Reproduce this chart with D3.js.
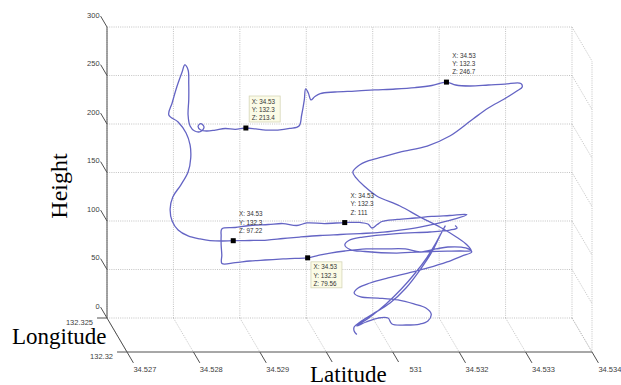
<!DOCTYPE html>
<html>
<head>
<meta charset="utf-8">
<script src="https://cdn.jsdelivr.net/npm/d3@7"></script>
<style>
  html, body { margin: 0; padding: 0; background: #fff; }
  svg { display: block; }
</style>
</head>
<body>
<svg id="chart" width="621" height="385"></svg>
<script>
// Axis ticks
const latTicks = [34.527, 34.528, 34.529, 34.530, 34.531, 34.532, 34.533, 34.534];
const latTickLabels = ["34.527", "34.528", "34.529", "34.53", "34.531", "34.532", "34.533", "34.534"];
const lonTicks = [132.325, 132.32];
const lonTickLabels = ["132.325", "132.32"];
const heightTicks = [0, 50, 100, 150, 200, 250, 300];
const heightTickLabels = ["0", "50", "100", "150", "200", "250", "300"];

// Flight track: latitude, longitude, height
const trackLat = [
  34.53061, 34.53057, 34.53057, 34.53066, 34.53085, 34.53111, 34.53135, 34.53156, 34.53174, 34.53186,
  34.53194, 34.53189, 34.53180, 34.53167, 34.53149, 34.53128, 34.53105, 34.53081, 34.53061, 34.53075,
  34.53093, 34.53108, 34.53114, 34.53135, 34.53156, 34.53168, 34.53173, 34.53165, 34.53147, 34.53123,
  34.53093, 34.53067, 34.53057, 34.53063, 34.53081, 34.53108, 34.53138, 34.53168, 34.53197, 34.53219,
  34.53234, 34.53225, 34.53198, 34.53180, 34.53156, 34.53134, 34.53103, 34.53075, 34.53043, 34.53021,
  34.53003, 34.52987, 34.52968, 34.52950, 34.52923, 34.52900, 34.52878, 34.52858, 34.52862, 34.52861,
  34.52861, 34.52862, 34.52882, 34.52904, 34.52932, 34.52954, 34.52975, 34.52990, 34.53017, 34.53047,
  34.53070, 34.53082, 34.53088, 34.53096, 34.53103, 34.53126, 34.53153, 34.53178, 34.53205, 34.53231,
  34.53209, 34.53186, 34.53156, 34.53126, 34.53096, 34.53066, 34.53036, 34.53006, 34.52975, 34.52950,
  34.52926, 34.52900, 34.52875, 34.52858, 34.52840, 34.52825, 34.52807, 34.52792, 34.52783, 34.52780,
  34.52784, 34.52796, 34.52807, 34.52811, 34.52810, 34.52804, 34.52792, 34.52778, 34.52783, 34.52790,
  34.52798, 34.52802, 34.52807, 34.52808, 34.52808, 34.52807, 34.52810, 34.52817, 34.52826, 34.52831,
  34.52826, 34.52822, 34.52826, 34.52835, 34.52848, 34.52863, 34.52878, 34.52894, 34.52909, 34.52924,
  34.52942, 34.52960, 34.52974, 34.52978, 34.52994, 34.52996, 34.53000, 34.53004, 34.53010, 34.53018,
  34.53040, 34.53070, 34.53100, 34.53131, 34.53161, 34.53186, 34.53208, 34.53222, 34.53243, 34.53271,
  34.53296, 34.53320, 34.53322, 34.53314, 34.53295, 34.53271, 34.53248, 34.53213, 34.53179, 34.53138,
  34.53106, 34.53084, 34.53069, 34.53055, 34.53060, 34.53072, 34.53091, 34.53126, 34.53156, 34.53186,
  34.53212, 34.53227, 34.53233, 34.53216, 34.53171, 34.53121, 34.53073, 34.53051, 34.53043, 34.53049,
  34.53070, 34.53121, 34.53171, 34.53201, 34.53212, 34.53209
];
const trackLon = [
  132.3225, 132.3225, 132.3225, 132.3225, 132.3225, 132.3225, 132.3225, 132.3225, 132.3225, 132.3225,
  132.3225, 132.3225, 132.3225, 132.3225, 132.3225, 132.3225, 132.3225, 132.3225, 132.3225, 132.3225,
  132.3225, 132.3225, 132.3225, 132.3225, 132.3225, 132.3225, 132.3225, 132.3225, 132.3225, 132.3225,
  132.3225, 132.3225, 132.3225, 132.3225, 132.3225, 132.3225, 132.3225, 132.3225, 132.3225, 132.3225,
  132.3225, 132.3225, 132.3225, 132.3225, 132.3225, 132.3225, 132.3225, 132.3225, 132.3225, 132.3225,
  132.3225, 132.3225, 132.3225, 132.3225, 132.3225, 132.3225, 132.3225, 132.3225, 132.3232, 132.3232,
  132.3232, 132.3232, 132.3232, 132.3232, 132.3232, 132.3232, 132.3232, 132.3232, 132.3232, 132.3232,
  132.3232, 132.3232, 132.3232, 132.3232, 132.3232, 132.3232, 132.3232, 132.3232, 132.3232, 132.3232,
  132.3225, 132.3225, 132.3225, 132.3225, 132.3225, 132.3225, 132.3225, 132.3225, 132.3225, 132.3225,
  132.3225, 132.3225, 132.3225, 132.3225, 132.3225, 132.3225, 132.3225, 132.3225, 132.3225, 132.3225,
  132.3225, 132.3225, 132.3225, 132.3225, 132.3225, 132.3225, 132.3225, 132.3225, 132.3225, 132.3225,
  132.3225, 132.3225, 132.3225, 132.3225, 132.3225, 132.3225, 132.3225, 132.3225, 132.3225, 132.3225,
  132.3225, 132.3225, 132.3225, 132.3225, 132.3225, 132.3225, 132.3225, 132.3225, 132.3225, 132.3225,
  132.3225, 132.3225, 132.3225, 132.3225, 132.3245, 132.3245, 132.3245, 132.3245, 132.3245, 132.3245,
  132.3245, 132.3245, 132.3245, 132.3245, 132.3245, 132.3245, 132.3245, 132.3245, 132.3245, 132.3245,
  132.3245, 132.3245, 132.3245, 132.3245, 132.3245, 132.3245, 132.3245, 132.3245, 132.3245, 132.3245,
  132.3235, 132.3235, 132.3235, 132.3225, 132.3225, 132.3225, 132.3225, 132.3225, 132.3225, 132.3225,
  132.3225, 132.3225, 132.3225, 132.3225, 132.3225, 132.3225, 132.3225, 132.3225, 132.3225, 132.3225,
  132.3225, 132.3225, 132.3225, 132.3225, 132.3225, 132.3225
];
const trackHeight = [
  0.5, 4.1, 8.2, 13.4, 21.6, 33.0, 48.5, 67.0, 85.6, 102.1,
  112.4, 106.2, 94.8, 80.4, 63.9, 47.4, 32.0, 18.6, 9.3, 13.4,
  17.5, 17.5, 11.3, 10.3, 11.3, 14.4, 21.6, 27.8, 32.0, 36.1,
  38.1, 39.2, 43.3, 48.5, 53.6, 58.8, 63.9, 69.1, 75.3, 81.4,
  85.6, 89.7, 90.7, 88.7, 85.6, 88.7, 88.7, 88.7, 86.6, 84.5,
  82.0, 79.56, 78.9, 78.4, 77.3, 76.3, 74.7, 73.7, 77.6, 87.9,
  97.2, 104.4, 105.9, 108.0, 109.0, 110.0, 108.0, 110.6, 110.0, 111,
  111.1, 109.5, 105.4, 109.0, 112.1, 114.2, 115.7, 117.3, 118.3, 119.3,
  119.6, 115.5, 111.3, 108.2, 105.7, 104.6, 103.6, 102.6, 101.0, 99.5,
  97.9, 97.4, 97.22, 96.9, 97.4, 99.0, 102.1, 108.2, 117.5, 129.9,
  142.3, 154.6, 168.0, 182.5, 195.9, 208.2, 219.6, 226.8, 239.2, 255.7,
  271.1, 278.4, 273.2, 258.8, 242.3, 226.8, 215.5, 210.3, 209.8, 214.4,
  218.0, 215.0, 211.3, 210.3, 211.3, 212.9, 211.9, 213.4, 212.4, 211.3,
  211.3, 212.9, 215.5, 226.8, 228.3, 239.6, 235.5, 228.3, 231.9, 234.9,
  236.5, 237.5, 238.6, 239.6, 241.1, 243.2, 246.7, 243.7, 242.7, 243.7,
  244.7, 245.3, 241.7, 237.5, 229.3, 220.0, 208.7, 191.1, 180.8, 174.6,
  176.5, 172.4, 167.2, 168.0, 161.9, 153.6, 143.3, 133.0, 121.7, 111.3,
  100.5, 92.8, 87.1, 86.6, 86.1, 84.5, 86.1, 88.1, 92.8, 97.4,
  101.0, 104.6, 106.2, 108.2, 110.3, 112.9
];

// Data tips on the track
const tipLat = [34.52894, 34.53208, 34.52875, 34.53047, 34.52987];
const tipLon = [132.3225, 132.3245, 132.3225, 132.3232, 132.3225];
const tipHeight = [213.4, 246.7, 97.22, 111, 79.56];

// ---- projection of the 3-D box ----
const latMin = 34.527, latMax = 34.534;
const lonBack = 132.325, lonFront = 132.32;
const hMin = 0, hMax = 300;

const xScale = d3.scaleLinear().domain([latMin, latMax]).range([107, 572]);
const zScale = d3.scaleLinear().domain([hMin, hMax]).range([318, 27]);
const depthX = d3.scaleLinear().domain([lonBack, lonFront]).range([0, 20]);
const depthY = d3.scaleLinear().domain([lonBack, lonFront]).range([0, 34]);

function proj(la, lo, h) {
  return [xScale(la) + depthX(lo), zScale(h) + depthY(lo)];
}

const svg = d3.select("#chart");
svg.append("rect").attr("width", 621).attr("height", 385).attr("fill", "#fff");

const gridG = svg.append("g")
  .attr("stroke", "#b4b4b4")
  .attr("stroke-width", 0.8)
  .attr("stroke-dasharray", "1 1.2")
  .attr("fill", "none");

function seg(g, a, b) {
  g.append("line")
    .attr("x1", a[0]).attr("y1", a[1])
    .attr("x2", b[0]).attr("y2", b[1]);
}

// back wall
latTicks.forEach(la => seg(gridG, proj(la, lonBack, hMin), proj(la, lonBack, hMax)));
heightTicks.forEach(h => seg(gridG, proj(latMin, lonBack, h), proj(latMax, lonBack, h)));
// floor
latTicks.forEach(la => seg(gridG, proj(la, lonBack, hMin), proj(la, lonFront, hMin)));
// right wall
heightTicks.forEach(h => seg(gridG, proj(latMax, lonBack, h), proj(latMax, lonFront, h)));
seg(gridG, proj(latMax, lonFront, hMin), proj(latMax, lonFront, hMax));

// axes
const axisG = svg.append("g").attr("stroke", "#505050").attr("stroke-width", 1).attr("fill", "none");
seg(axisG, proj(latMin, lonBack, hMin), proj(latMin, lonBack, hMax));
seg(axisG, proj(latMin, lonBack, hMin), proj(latMin, lonFront, hMin));
seg(axisG, proj(latMin, lonFront, hMin), proj(latMax, lonFront, hMin));

const tickFont = "Liberation Sans, Arial, sans-serif";
const labelG = svg.append("g").attr("font-family", tickFont).attr("font-size", 7.5).attr("fill", "#404040");

// height ticks
const lonOut = lonBack + 0.0016;
heightTicks.forEach((h, i) => {
  const a = proj(latMin, lonBack, h), b = proj(latMin, lonOut, h);
  seg(axisG, a, b);
  labelG.append("text").attr("x", b[0] - 1).attr("y", b[1] + 1.5)
    .attr("text-anchor", "end").text(heightTickLabels[i]);
});

// latitude ticks
const lonIn = lonFront - 0.0016;
latTicks.forEach((la, i) => {
  const a = proj(la, lonFront, hMin), b = proj(la, lonIn, hMin);
  seg(axisG, a, b);
  labelG.append("text").attr("x", b[0] + 11.5).attr("y", b[1] + 9.5)
    .attr("text-anchor", "middle").text(latTickLabels[i]);
});

// longitude ticks
lonTicks.forEach((lo, i) => {
  const a = proj(latMin, lo, hMin), b = proj(latMin - 0.00015, lo, hMin);
  seg(axisG, a, b);
  labelG.append("text").attr("x", b[0] - 4).attr("y", b[1] + 7)
    .attr("text-anchor", "end").text(lonTickLabels[i]);
});

// track
const idx = d3.range(trackLat.length);
const line = d3.line()
  .x(i => proj(trackLat[i], trackLon[i], trackHeight[i])[0])
  .y(i => proj(trackLat[i], trackLon[i], trackHeight[i])[1])
  .curve(d3.curveCatmullRom.alpha(0.5));

svg.append("path")
  .datum(idx)
  .attr("d", line)
  .attr("fill", "none")
  .attr("stroke", "#6464c4")
  .attr("stroke-width", 1.3)
  .attr("stroke-linejoin", "round");

// data tips
const fmt = d3.format(".4~g");
const tipBoxed = [true, false, false, false, true];
const tipBelow = [false, false, false, false, true];
const tipG = svg.append("g");
tipLat.forEach((la, i) => {
  const p = proj(la, tipLon[i], tipHeight[i]);
  const bx = p[0] + 3.3;
  const by = tipBelow[i] ? p[1] + 4 : p[1] - 32;
  if (tipBoxed[i]) {
    tipG.append("rect").attr("x", bx).attr("y", by).attr("width", 31).attr("height", 26)
      .attr("fill", "#fbfbe6").attr("stroke", "#d6d6b8").attr("stroke-width", 0.8);
  }
  const lines = ["X: " + fmt(la), "Y: " + fmt(tipLon[i]), "Z: " + fmt(tipHeight[i])];
  lines.forEach((t, j) => {
    tipG.append("text").attr("x", bx + 2.5).attr("y", by + 7.6 + j * 8.3)
      .attr("font-family", tickFont).attr("font-size", 6.3).attr("fill", "#333").text(t);
  });
  tipG.append("rect").attr("x", p[0] - 2.5).attr("y", p[1] - 2.5)
    .attr("width", 5).attr("height", 5).attr("fill", "#000");
});

// axis titles
const titleFont = "Liberation Serif, 'Times New Roman', serif";
svg.append("text").attr("transform", "translate(67,186) rotate(-90)")
  .attr("text-anchor", "middle").attr("font-family", titleFont).attr("font-size", 24)
  .attr("fill", "#000").text("Height");
svg.append("text").attr("x", 12).attr("y", 344)
  .attr("font-family", titleFont).attr("font-size", 23).attr("fill", "#000").text("Longitude");
svg.append("rect").attr("x", 306).attr("y", 362).attr("width", 103).attr("height", 23).attr("fill", "#fff");
svg.append("text").attr("x", 310).attr("y", 381.5)
  .attr("font-family", titleFont).attr("font-size", 23).attr("fill", "#000").text("Latitude");
</script>
</body>
</html>
